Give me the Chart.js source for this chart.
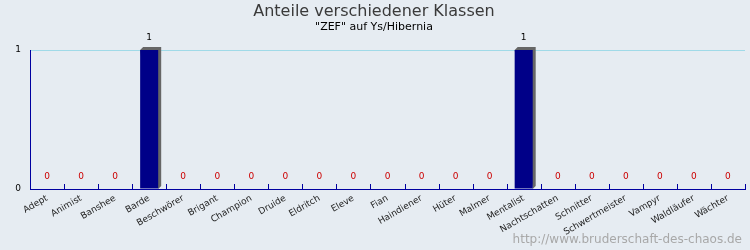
<!DOCTYPE html>
<html>
<head>
<meta charset="utf-8">
<script src="https://cdn.jsdelivr.net/npm/chart.js@4"></script>
<style>
  body { margin: 0; background: #e6ecf2; }
  canvas { display: block; }
</style>
</head>
<body>
<canvas id="klassenChart" width="750" height="250"></canvas>
<script>
const klassen = ['Adept', 'Animist', 'Banshee', 'Barde', 'Beschwörer', 'Brigant', 'Champion', 'Druide',
  'Eldritch', 'Eleve', 'Fian', 'Haindiener', 'Hüter', 'Malmer', 'Mentalist', 'Nachtschatten',
  'Schnitter', 'Schwertmeister', 'Vampyr', 'Waldläufer', 'Wächter'];
const anzahl = [0, 0, 0, 1, 0, 0, 0, 0, 0, 0, 0, 0, 0, 0, 1, 0, 0, 0, 0, 0, 0];
const yTicks = [0, 1];

const titel = 'Anteile verschiedener Klassen';
const untertitel = '"ZEF" auf Ys/Hibernia';
const quelle = 'http://www.bruderschaft-des-chaos.de';

// background, titles, watermark
const rahmen = {
  id: 'rahmen',
  beforeDraw(chart) {
    const ctx = chart.ctx;
    ctx.save();
    ctx.fillStyle = '#e6ecf2';
    ctx.fillRect(0, 0, chart.width, chart.height);
    ctx.textAlign = 'center';
    ctx.textBaseline = 'middle';
    ctx.fillStyle = '#3a3a3a';
    ctx.font = '16px "DejaVu Sans"';
    ctx.fillText(titel, 374, 12);
    ctx.fillStyle = '#000';
    ctx.font = '11px "DejaVu Sans"';
    ctx.fillText(untertitel, 374, 27);
    ctx.textAlign = 'right';
    ctx.fillStyle = '#a8a8a8';
    ctx.font = '12px "DejaVu Sans"';
    ctx.fillText(quelle, 742, 240);
    ctx.restore();
  },
  beforeDatasetsDraw(chart) {
    // grey 3d shadow behind the bars
    const ctx = chart.ctx;
    const bottom = chart.chartArea.bottom;
    ctx.save();
    ctx.fillStyle = '#666666';
    chart.getDatasetMeta(0).data.forEach((bar, i) => {
      if (!anzahl[i]) return;
      const w = bar.width;
      const x0 = bar.x - w / 2;
      ctx.beginPath();
      ctx.moveTo(x0, bar.y);
      ctx.lineTo(x0 + 3, bar.y - 3);
      ctx.lineTo(x0 + w + 3, bar.y - 3);
      ctx.lineTo(x0 + w + 3, bottom - 3);
      ctx.lineTo(x0 + w, bottom);
      ctx.closePath();
      ctx.fill();
    });
    ctx.restore();
  },
  afterDatasetsDraw(chart) {
    const ctx = chart.ctx;
    const area = chart.chartArea;
    const x = chart.scales.x;
    ctx.save();
    ctx.textAlign = 'center';
    ctx.textBaseline = 'middle';
    ctx.font = '9px "DejaVu Sans"';
    chart.getDatasetMeta(0).data.forEach((bar, i) => {
      if (anzahl[i]) {
        ctx.fillStyle = '#000';
        ctx.fillText(anzahl[i], bar.x, bar.y - 12);
      } else {
        ctx.fillStyle = '#cc0000';
        ctx.fillText(anzahl[i], bar.x, area.bottom - 12);
      }
    });
    // inner tick marks on the category axis
    ctx.strokeStyle = '#0000a0';
    ctx.lineWidth = 1;
    const half = (x.getPixelForValue(1) - x.getPixelForValue(0)) / 2;
    for (let i = 0; i < klassen.length; i++) {
      const px = Math.round(x.getPixelForValue(i) + half) + 0.5;
      ctx.beginPath();
      ctx.moveTo(px, area.bottom - 5);
      ctx.lineTo(px, area.bottom);
      ctx.stroke();
    }
    ctx.restore();
  }
};

new Chart(document.getElementById('klassenChart'), {
  type: 'bar',
  data: {
    labels: klassen,
    datasets: [{
      data: anzahl,
      backgroundColor: '#000088',
      barPercentage: 0.53,
      categoryPercentage: 1
    }]
  },
  options: {
    responsive: false,
    animation: false,
    layout: { padding: { top: 50, right: 5, left: 0, bottom: 0 } },
    plugins: {
      legend: { display: false },
      tooltip: { enabled: false }
    },
    scales: {
      x: {
        afterFit: (s) => { s.height = 61; },
        grid: { color: 'transparent', drawTicks: false },
        border: { color: '#0000a0', width: 1 },
        ticks: {
          minRotation: 30,
          maxRotation: 30,
          autoSkip: false,
          padding: 4,
          color: '#222',
          font: { family: 'DejaVu Sans', size: 9 }
        }
      },
      y: {
        min: 0,
        max: 1,
        afterFit: (s) => { s.width = 30; },
        afterBuildTicks: (s) => { s.ticks = yTicks.map(v => ({ value: v })); },
        grid: {
          drawTicks: false,
          color: (c) => c.tick && c.tick.value === 0 ? 'transparent' : '#a0dae8'
        },
        border: { color: '#0000a0', width: 1 },
        ticks: {
          padding: 9,
          color: '#000',
          font: { family: 'DejaVu Sans', size: 9 }
        }
      }
    }
  },
  plugins: [rahmen]
});
</script>
</body>
</html>
